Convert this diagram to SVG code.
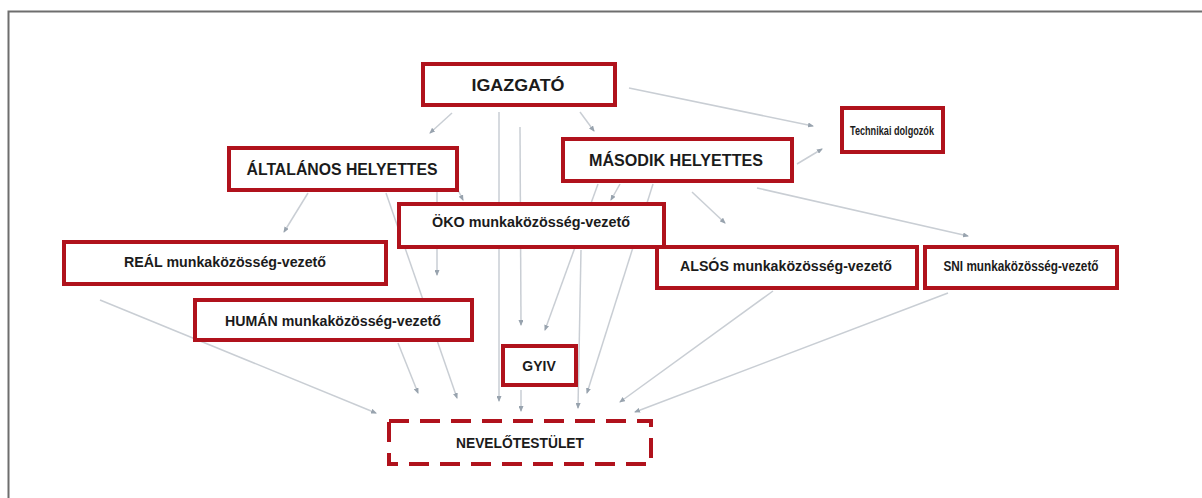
<svg xmlns="http://www.w3.org/2000/svg" width="1202" height="498" viewBox="0 0 1202 498">
<style>
.box{fill:#fff;stroke:#b0121c;stroke-width:4}
.dash{fill:#fff;stroke:#b0121c;stroke-width:4;stroke-dasharray:20 11}
.lbl{font-family:"Liberation Sans",Arial,sans-serif;font-weight:bold;fill:#1b1b1b;text-anchor:middle;dominant-baseline:central}
.big{font-size:16px}
.mid{font-size:14px}
.sm{font-size:13px}
.con line{stroke:#c9ced4;stroke-width:1.5;marker-end:url(#ah)}
.frame{stroke:#6e6e6e;stroke-width:2;fill:none}
</style>
<defs>
<marker id="ah" markerUnits="userSpaceOnUse" markerWidth="6" markerHeight="5" refX="5" refY="2.5" orient="auto">
<path d="M0,0 L6,2.5 L0,5 z" fill="#98a3ae"/>
</marker>
</defs>
<rect width="1202" height="498" fill="#fff"/>
<path class="frame" d="M8.5,498 V11.5 H1202"/>
<g id="connectors" class="con">
<line x1="452" y1="113" x2="430" y2="133"/>
<line x1="580" y1="112" x2="594" y2="131"/>
<line x1="629" y1="88" x2="813" y2="126"/>
<line x1="797" y1="164" x2="822" y2="149"/>
<line x1="499" y1="112" x2="499" y2="401"/>
<line x1="520" y1="127" x2="521" y2="325"/>
<line x1="521" y1="390" x2="521" y2="411"/>
<line x1="598" y1="184" x2="545" y2="330"/>
<line x1="620" y1="184" x2="611" y2="200"/>
<line x1="653" y1="184" x2="587" y2="393"/>
<line x1="581" y1="250" x2="578" y2="408"/>
<line x1="692" y1="192" x2="725" y2="223"/>
<line x1="757" y1="188" x2="968" y2="236"/>
<line x1="773" y1="291" x2="620" y2="402"/>
<line x1="948" y1="293" x2="635" y2="412"/>
<line x1="308" y1="193" x2="284" y2="232"/>
<line x1="458" y1="190" x2="463" y2="200"/>
<line x1="437" y1="191" x2="437" y2="275"/>
<line x1="386" y1="193" x2="457" y2="398"/>
<line x1="100" y1="300" x2="376" y2="413"/>
<line x1="398" y1="343" x2="418" y2="393"/>
</g>
<g id="igazgato"><rect class="box" x="423" y="64" width="192" height="41"/><text class="lbl big" x="518" y="85" textLength="93" lengthAdjust="spacingAndGlyphs">IGAZGATÓ</text></g>
<g id="technikai"><rect class="box" x="842" y="108" width="101" height="44"/><text class="lbl sm" x="892" y="130" textLength="84" lengthAdjust="spacingAndGlyphs">Technikai dolgozók</text></g>
<g id="altalanos"><rect class="box" x="229" y="148" width="228" height="42"/><text class="lbl big" x="342" y="169" textLength="191" lengthAdjust="spacingAndGlyphs">ÁLTALÁNOS HELYETTES</text></g>
<g id="masodik"><rect class="box" x="563" y="139" width="229" height="42"/><text class="lbl big" x="676" y="160" textLength="174" lengthAdjust="spacingAndGlyphs">MÁSODIK HELYETTES</text></g>
<g id="oko"><rect class="box" x="399" y="204" width="265" height="43"/><text class="lbl mid" x="531" y="222" textLength="198" lengthAdjust="spacingAndGlyphs">ÖKO munkaközösség-vezető</text></g>
<g id="real"><rect class="box" x="64" y="242" width="322" height="42"/><text class="lbl mid" x="225" y="262" textLength="202" lengthAdjust="spacingAndGlyphs">REÁL munkaközösség-vezető</text></g>
<g id="alsos"><rect class="box" x="657" y="247" width="260" height="41"/><text class="lbl mid" x="786" y="266" textLength="212" lengthAdjust="spacingAndGlyphs">ALSÓS munkaközösség-vezető</text></g>
<g id="sni"><rect class="box" x="925" y="247" width="192" height="41"/><text class="lbl mid" x="1021" y="266" textLength="155" lengthAdjust="spacingAndGlyphs">SNI munkaközösség-vezető</text></g>
<g id="human"><rect class="box" x="195" y="300" width="277" height="40"/><text class="lbl mid" x="333" y="321" textLength="216" lengthAdjust="spacingAndGlyphs">HUMÁN munkaközösség-vezető</text></g>
<g id="gyiv"><rect class="box" x="503" y="346" width="73" height="39"/><text class="lbl mid" x="539" y="366">GYIV</text></g>
<g id="nevelo"><rect class="dash" x="389" y="421" width="262" height="43"/><text class="lbl mid" x="520" y="443" textLength="128" lengthAdjust="spacingAndGlyphs">NEVELŐTESTÜLET</text></g>
</svg>
